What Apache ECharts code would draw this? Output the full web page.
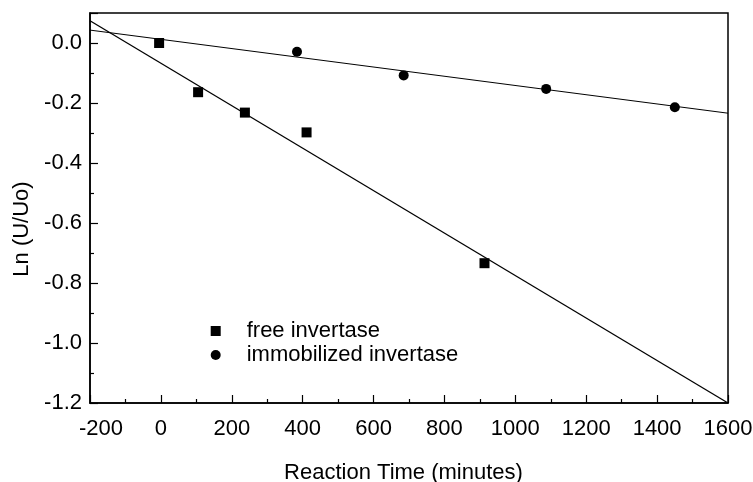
<!DOCTYPE html>
<html>
<head>
<meta charset="utf-8">
<script src="https://cdn.jsdelivr.net/npm/echarts@6/dist/echarts.min.js"></script>
<style>
  html, body { margin: 0; padding: 0; background: #fff; }
  #chart { width: 753px; height: 482px; }
</style>
</head>
<body>
<div id="chart"></div>
<script>
// Measured activity decay: ln(U/Uo) against reaction time
const freeTime = [-5, 105, 237, 411, 913];
const freeLnRatio = [0.0, -0.164, -0.232, -0.298, -0.734];
const immobTime = [384, 685, 1087, 1450];
const immobLnRatio = [-0.029, -0.108, -0.153, -0.214];

// Fitted straight lines, given by their ends over the time axis
const fitTime = [-200, 1600];
const freeFitLn = [0.074, -1.2];
const immobFitLn = [0.043, -0.234];

const xTicks = { min: -200, max: 1600, step: 200 };
const yTicks = { min: -1.2, max: 0.1, step: 0.2 };

const pairs = (xs, ys) => xs.map((x, i) => [x, ys[i]]);

const FONT = 'Liberation Sans, Arial, sans-serif';
const chart = echarts.init(document.getElementById('chart'), null, { renderer: 'canvas' });

chart.setOption({
  backgroundColor: '#fff',
  animation: false,
  grid: {
    left: 90, right: 25, top: 13, bottom: 79,
    containLabel: false, outerBoundsMode: 'none',
    show: true, borderColor: '#000', borderWidth: 1.5, backgroundColor: 'transparent'
  },
  legend: {
    orient: 'vertical',
    left: 210.7, top: 319, padding: 0,
    itemWidth: 10, itemHeight: 10, itemGap: 0,
    data: [
      { name: 'free invertase', icon: 'rect', itemStyle: { color: '#000', opacity: 1 } },
      { name: 'immobilized invertase', icon: 'circle', itemStyle: { color: '#000', opacity: 1 } }
    ],
    textStyle: { fontFamily: FONT, fontSize: 22, color: '#000', lineHeight: 24, padding: [0, 0, 0, 21] }
  },
  xAxis: {
    type: 'value',
    min: xTicks.min, max: xTicks.max, interval: xTicks.step,
    name: 'Reaction Time (minutes)',
    nameLocation: 'middle', nameGap: 59,
    nameTextStyle: { fontFamily: FONT, fontSize: 22, color: '#000', padding: [0, 11, 0, 0] },
    axisLine: { onZero: false, lineStyle: { color: '#000', width: 1.5 } },
    axisTick: { inside: true, length: 8, lineStyle: { color: '#000', width: 1.2 } },
    minorTick: { show: true, splitNumber: 2, length: 4, lineStyle: { color: '#000', width: 1.2 } },
    splitLine: { show: false },
    axisLabel: {
      margin: 15, color: '#000', fontFamily: FONT, fontSize: 22,
      formatter: v => v === xTicks.min ? '{lead|' + v + '}' : String(v),
      rich: { lead: { fontFamily: FONT, fontSize: 22, color: '#000', padding: [0, 0, 0, 22] } }
    }
  },
  yAxis: {
    type: 'value',
    min: yTicks.min, max: yTicks.max, interval: yTicks.step,
    name: 'Ln (U/Uo)',
    nameLocation: 'middle', nameGap: 56,
    nameTextStyle: { fontFamily: FONT, fontSize: 22, color: '#000', padding: [0, 42, 0, 0] },
    axisLine: { onZero: false, lineStyle: { color: '#000', width: 1.5 } },
    axisTick: { inside: true, length: 8, lineStyle: { color: '#000', width: 1.2 } },
    minorTick: { show: true, splitNumber: 2, length: 4, lineStyle: { color: '#000', width: 1.2 } },
    splitLine: { show: false },
    axisLabel: {
      margin: 8, color: '#000', fontFamily: FONT, fontSize: 22, showMaxLabel: false,
      formatter: v => v.toFixed(1)
    }
  },
  series: [
    {
      name: 'free fit', type: 'line', data: pairs(fitTime, freeFitLn),
      showSymbol: false, symbol: 'none', clip: true, silent: true,
      lineStyle: { color: '#000', width: 1.3 }, z: 2
    },
    {
      name: 'immobilized fit', type: 'line', data: pairs(fitTime, immobFitLn),
      showSymbol: false, symbol: 'none', clip: true, silent: true,
      lineStyle: { color: '#000', width: 1 }, z: 2
    },
    {
      name: 'free invertase', type: 'scatter', data: pairs(freeTime, freeLnRatio),
      symbol: 'rect', symbolSize: 10, itemStyle: { color: '#000', opacity: 1 }, z: 3
    },
    {
      name: 'immobilized invertase', type: 'scatter', data: pairs(immobTime, immobLnRatio),
      symbol: 'circle', symbolSize: 10, itemStyle: { color: '#000', opacity: 1 }, z: 3
    }
  ]
});
</script>
</body>
</html>
